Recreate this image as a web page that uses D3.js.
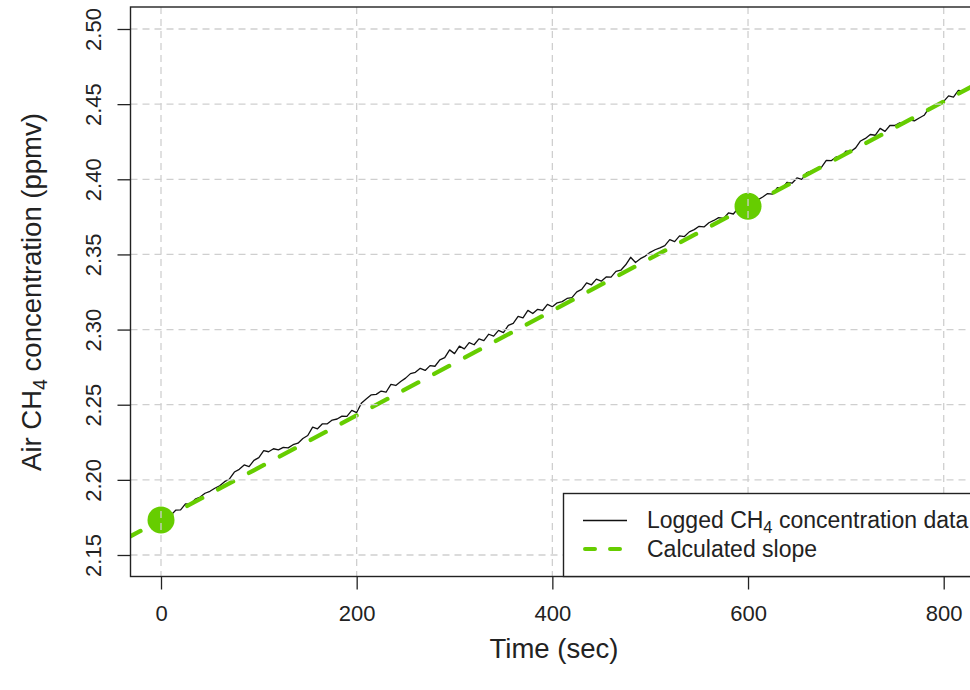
<!DOCTYPE html>
<html><head><meta charset="utf-8">
<script src="https://cdn.jsdelivr.net/npm/d3@7"></script>
<style>
body{margin:0;background:#fff}
svg{display:block}
text{font-family:"Liberation Sans",Arial,Helvetica,sans-serif;fill:#222}
</style>
</head><body>
<svg id="c" width="970" height="690"></svg>
<script>
// ---- data ----
const times = [0,5,10,15,20,25,30,35,40,45,50,55,60,65,70,75,80,85,90,95,
100,105,110,115,120,125,130,135,140,145,150,155,160,165,170,175,180,185,190,195,
200,205,210,215,220,225,230,235,240,245,250,255,260,265,270,275,280,285,290,295,
300,305,310,315,320,325,330,335,340,345,350,355,360,365,370,375,380,385,390,395,
400,405,410,415,420,425,430,435,440,445,450,455,460,465,470,475,480,485,490,495,
500,505,510,515,520,525,530,535,540,545,550,555,560,565,570,575,580,585,590,595,
600,605,610,615,620,625,630,635,640,645,650,655,660,665,670,675,680,685,690,695,
700,705,710,715,720,725,730,735,740,745,750,755,760,765,770,775,780,785,790,795,
800,805,810,815,820,825,830,835,840,845,850,855,860];
const ch4 = [2.1735,2.1755,2.1764,2.1798,2.1800,2.1840,2.1839,2.1872,2.1886,2.1911,2.1924,2.1944,2.1961,2.1988,2.2006,2.2052,2.2070,2.2099,2.2088,2.2130,
2.2148,2.2195,2.2187,2.2207,2.2200,2.2216,2.2213,2.2234,2.2244,2.2275,2.2295,2.2351,2.2340,2.2373,2.2373,2.2398,2.2405,2.2424,2.2422,2.2462,
2.2448,2.2512,2.2539,2.2566,2.2569,2.2591,2.2583,2.2635,2.2628,2.2654,2.2677,2.2707,2.2716,2.2742,2.2728,2.2760,2.2756,2.2799,2.2813,2.2865,
2.2840,2.2890,2.2872,2.2913,2.2899,2.2938,2.2926,2.2969,2.2956,2.2995,2.2980,2.3028,2.3041,2.3088,2.3078,2.3128,2.3107,2.3135,2.3127,2.3168,
2.3152,2.3178,2.3186,2.3207,2.3213,2.3251,2.3267,2.3311,2.3298,2.3336,2.3322,2.3350,2.3349,2.3387,2.3395,2.3431,2.3481,2.3446,2.3472,2.3489,
2.3514,2.3531,2.3544,2.3558,2.3598,2.3585,2.3623,2.3619,2.3650,2.3665,2.3687,2.3683,2.3711,2.3726,2.3745,2.3740,2.3776,2.3769,2.3807,2.3806,
2.3821,2.3839,2.3863,2.3882,2.3905,2.3901,2.3944,2.3941,2.3980,2.3974,2.4009,2.4000,2.4044,2.4055,2.4071,2.4080,2.4126,2.4124,2.4149,2.4147,
2.4188,2.4185,2.4209,2.4255,2.4272,2.4298,2.4293,2.4339,2.4319,2.4358,2.4358,2.4375,2.4371,2.4395,2.4389,2.4408,2.4426,2.4474,2.4483,2.4507,
2.4518,2.4555,2.4547,2.4591,2.4586,2.4610,2.4620,2.4659,2.4651,2.4686,2.4684,2.4723,2.4739];
const slopeTimes = [0, 600];
const slopeValues = [2.1733, 2.3821];
const xTicks = [0, 200, 400, 600, 800];
const yTicks = [2.15, 2.20, 2.25, 2.30, 2.35, 2.40, 2.45, 2.50];
const yTickLabels = ["2.15","2.20","2.25","2.30","2.35","2.40","2.45","2.50"];
const green = "#66CD00";

// ---- layout ----
const svg = d3.select("#c");
const L = 130.5, T = 7, B = 576.5, R = 1010;
const x = d3.scaleLinear().domain([0, 800]).range([161, 943.7]);
const y = d3.scaleLinear().domain([2.15, 2.50]).range([555, 29]);

svg.append("rect").attr("width",970).attr("height",690).attr("fill","#fff");
svg.append("defs").append("clipPath").attr("id","plotclip")
  .append("rect").attr("x",L).attr("y",T).attr("width",R-L).attr("height",B-T);

const plot = svg.append("g").attr("clip-path","url(#plotclip)");

// data line
const pts = times.map((t,i)=>[t, ch4[i]]);
plot.append("path").datum(pts)
  .attr("d", d3.line().x(d=>x(d[0])).y(d=>y(d[1])))
  .attr("fill","none").attr("stroke","#111").attr("stroke-width",1.3)
  .attr("stroke-linejoin","round");

// slope line
const k = (slopeValues[1]-slopeValues[0])/(slopeTimes[1]-slopeTimes[0]);
const x0 = x.invert(L-5), x1 = x.invert(R);
plot.append("line")
  .attr("x1", x(x0)).attr("y1", y(slopeValues[0] + k*(x0-slopeTimes[0])))
  .attr("x2", x(x1)).attr("y2", y(slopeValues[0] + k*(x1-slopeTimes[0])))
  .attr("stroke", green).attr("stroke-width",4.3)
  .attr("stroke-dasharray","17,18").attr("stroke-linecap","round");

// endpoints
plot.selectAll("circle.ep").data(slopeTimes.map((t,i)=>[t, slopeValues[i]]))
  .enter().append("circle").attr("class","ep")
  .attr("cx", d=>x(d[0])).attr("cy", d=>y(d[1])).attr("r",13.5)
  .attr("fill", green);

// grid (drawn on top, as in the reference)
const grid = plot.append("g").attr("stroke","#cfcfcf").attr("stroke-width",1.3)
  .attr("stroke-dasharray","7,5");
xTicks.forEach(t=>grid.append("line").attr("x1",x(t)).attr("x2",x(t)).attr("y1",T).attr("y2",B));
yTicks.forEach(v=>grid.append("line").attr("x1",L).attr("x2",R).attr("y1",y(v)).attr("y2",y(v)));

// box
svg.append("rect").attr("x",L).attr("y",T).attr("width",R-L).attr("height",B-T)
  .attr("fill","none").attr("stroke","#222").attr("stroke-width",1.4);

// axes
const xAxis = d3.axisBottom(x).tickValues(xTicks).tickSize(13).tickFormat(d3.format("d"));
const gx = svg.append("g").attr("transform",`translate(0,${B})`).call(xAxis);
gx.select(".domain").remove();
gx.selectAll(".tick line").attr("stroke","#222").attr("stroke-width",1.3);
gx.selectAll(".tick text").attr("font-size",22).attr("fill","#222")
  .attr("font-family",'"Liberation Sans",Arial,sans-serif').attr("dy",0).attr("y",44);

const yAxis = d3.axisLeft(y).tickValues(yTicks).tickSize(13).tickFormat((d,i)=>yTickLabels[i]);
const gy = svg.append("g").attr("transform",`translate(${L},0)`).call(yAxis);
gy.select(".domain").remove();
gy.selectAll(".tick line").attr("stroke","#222").attr("stroke-width",1.3);
gy.selectAll(".tick text").attr("font-size",22).attr("fill","#222")
  .attr("font-family",'"Liberation Sans",Arial,sans-serif')
  .attr("x",null).attr("dy",null)
  .attr("text-anchor","middle")
  .attr("transform","translate(-30,0) rotate(-90)");

// axis titles
svg.append("text").attr("x",554).attr("y",658).attr("text-anchor","middle")
  .attr("font-size",27.5).text("Time (sec)");
const yt = svg.append("text").attr("text-anchor","middle").attr("font-size",27.5)
  .attr("transform","translate(41,292) rotate(-90)");
yt.append("tspan").text("Air CH");
yt.append("tspan").attr("font-size",19.5).attr("dy",6).text("4");
yt.append("tspan").attr("dy",-6).text(" concentration (ppmv)");

// legend
const lg = svg.append("g");
lg.append("rect").attr("x",563.5).attr("y",493.5).attr("width",500).attr("height",B-493.5)
  .attr("fill","#fff").attr("stroke","#222").attr("stroke-width",1.4);
lg.append("line").attr("x1",583).attr("x2",627).attr("y1",520.5).attr("y2",520.5)
  .attr("stroke","#111").attr("stroke-width",1.3);
lg.append("line").attr("x1",585).attr("x2",627).attr("y1",549).attr("y2",549)
  .attr("stroke",green).attr("stroke-width",4).attr("stroke-dasharray","10,15").attr("stroke-linecap","round");
const t1 = lg.append("text").attr("x",647).attr("y",528).attr("font-size",23);
t1.append("tspan").text("Logged CH");
t1.append("tspan").attr("font-size",16.5).attr("dy",5).text("4");
t1.append("tspan").attr("dy",-5).text(" concentration data");
lg.append("text").attr("x",647).attr("y",557).attr("font-size",23).text("Calculated slope");
</script>
</body></html>
